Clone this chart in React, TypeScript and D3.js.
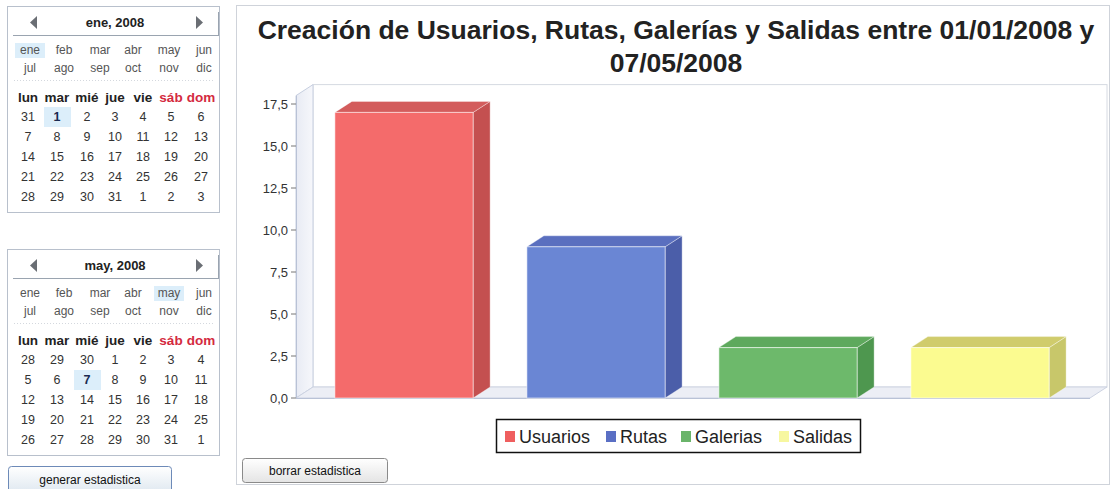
import React from "react";
import * as d3 from "d3";

const categories = ["Usuarios", "Rutas", "Galerias", "Salidas"];
const values = [17, 9, 3, 3];
const yTicks = [0, 2.5, 5, 7.5, 10, 12.5, 15, 17.5];
const titleLines = [
  "Creación de Usuarios, Rutas, Galerías y Salidas entre 01/01/2008 y",
  "07/05/2008",
];
const monthsRow1 = ["ene", "feb", "mar", "abr", "may", "jun"];
const monthsRow2 = ["jul", "ago", "sep", "oct", "nov", "dic"];
const weekdays = ["lun", "mar", "mié", "jue", "vie", "sáb", "dom"];
const janDays = [
  [31, 1, 2, 3, 4, 5, 6],
  [7, 8, 9, 10, 11, 12, 13],
  [14, 15, 16, 17, 18, 19, 20],
  [21, 22, 23, 24, 25, 26, 27],
  [28, 29, 30, 31, 1, 2, 3],
];
const mayDays = [
  [28, 29, 30, 1, 2, 3, 4],
  [5, 6, 7, 8, 9, 10, 11],
  [12, 13, 14, 15, 16, 17, 18],
  [19, 20, 21, 22, 23, 24, 25],
  [26, 27, 28, 29, 30, 31, 1],
];

const palette = [
  { front: "#f46b6b", side: "#c45050", top: "#d35c5c", legend: "#ef5f5f" },
  { front: "#6a86d4", side: "#4b5ea9", top: "#5a6fbf", legend: "#5a6fc4" },
  { front: "#6db96b", side: "#4e974f", top: "#5ea95d", legend: "#6ab46a" },
  { front: "#fbfb90", side: "#c8c76a", top: "#d0cc6c", legend: "#f7f7a0" },
];

const FONT = "Arial, 'Liberation Sans', sans-serif";
const CALFONT = "Arial, 'Liberation Sans', sans-serif";

function Calendar({ oy, title, days, selMonth, selDay }: any) {
  const colX = [28, 57, 87, 115, 143, 171, 201];
  const monX = [30, 64, 100, 133, 169, 204];
  return (
    <g transform={`translate(0,${oy})`}>
      <rect x={7.5} y={6.5} width={212} height={206} fill="#fff" stroke="#b8c0cc" />
      <line x1={13} x2={219} y1={35.5} y2={35.5} stroke="#9aa4b0" />
      <line x1={218.5} x2={218.5} y1={12} y2={35} stroke="#9aa4b0" />
      <path d="M37,16 L37,29 L30,22.5 Z" fill="#6a6e74" />
      <path d="M196,16 L196,29 L203,22.5 Z" fill="#6a6e74" />
      <text x={115} y={22} fontFamily={CALFONT} fontSize={13} fontWeight="bold" fill="#222" textAnchor="middle" dominantBaseline="central">{title}</text>
      {selMonth !== null && (
        <rect x={monX[selMonth % 6] - 15} y={selMonth < 6 ? 43 : 61} width={30} height={15} fill="#dceefa" />
      )}
      {monthsRow1.map((m, i) => (
        <text key={m} x={monX[i]} y={50} fontFamily={CALFONT} fontSize={12} fill="#555" textAnchor="middle" dominantBaseline="central">{m}</text>
      ))}
      {monthsRow2.map((m, i) => (
        <text key={m} x={monX[i]} y={68} fontFamily={CALFONT} fontSize={12} fill="#555" textAnchor="middle" dominantBaseline="central">{m}</text>
      ))}
      <line x1={14} x2={214} y1={80.5} y2={80.5} stroke="#d4d8de" strokeDasharray="1,2" />
      {weekdays.map((w, i) => (
        <text key={w} x={colX[i]} y={97} fontFamily={CALFONT} fontSize={13.5} fontWeight="bold" fill={i >= 5 ? "#d42a40" : "#222"} textAnchor="middle" dominantBaseline="central">{w}</text>
      ))}
      {days.map((row: number[], r: number) =>
        row.map((d, c) => {
          const sel = selDay && selDay[0] === r && selDay[1] === c;
          return (
            <g key={`${r}-${c}`}>
              {sel && <rect x={colX[c] - 13} y={107 + r * 20} width={27} height={20} fill="#dceefa" />}
              <text x={colX[c]} y={117 + r * 20} fontFamily={CALFONT} fontSize={12.5} fill={sel ? "#1a2a50" : "#333"} fontWeight={sel ? "bold" : "normal"} textAnchor="middle" dominantBaseline="central">{d}</text>
            </g>
          );
        })
      )}
    </g>
  );
}

export default function App() {
  const yBase = 398;
  const y = d3.scaleLinear().domain([0, 18]).range([yBase, yBase - 18 * 16.8]);
  const x = d3
    .scaleBand<string>()
    .domain(categories)
    .range([308, 1076])
    .paddingInner(0.28)
    .paddingOuter(0.14);
  const dx = 17;
  const dy = -11;
  const axisX = 296;
  const floorEnd = 1090;
  const yTop = y(18);

  return (
    <svg width={1112} height={489} style={{ position: "absolute", left: 0, top: 0, background: "#fff" }}>
      <defs>
        <linearGradient id="btn1" x1="0" x2="0" y1="0" y2="1">
          <stop offset="0" stopColor="#ffffff" />
          <stop offset="1" stopColor="#dfe8f0" />
        </linearGradient>
        <linearGradient id="btn2" x1="0" x2="0" y1="0" y2="1">
          <stop offset="0" stopColor="#ffffff" />
          <stop offset="1" stopColor="#e4e4e4" />
        </linearGradient>
        <linearGradient id="wallL" x1="0" x2="1" y1="0" y2="0">
          <stop offset="0" stopColor="#e8ebf4" />
          <stop offset="1" stopColor="#f6f7fb" />
        </linearGradient>
      </defs>

      <Calendar oy={0} title="ene, 2008" days={janDays} selMonth={0} selDay={[0, 1]} />
      <Calendar oy={243} title="may, 2008" days={mayDays} selMonth={4} selDay={[1, 2]} />

      <rect x={8.5} y={466.5} width={163} height={26} rx={3} fill="url(#btn1)" stroke="#6d8ab8" />
      <text x={90} y={480} fontFamily={CALFONT} fontSize={12} fill="#111" textAnchor="middle" dominantBaseline="central">generar estadistica</text>

      {/* chart panel */}
      <rect x={236.5} y={5.5} width={873} height={479} fill="#fff" stroke="#cfd3da" />

      {titleLines.map((t, i) => (
        <text key={i} x={676} y={39 + i * 33} fontFamily={FONT} fontSize={26.5} fontWeight="bold" fill="#222" textAnchor="middle">{t}</text>
      ))}

      {/* back wall */}
      <rect x={axisX + dx} y={yTop + dy} width={floorEnd - axisX} height={yBase - yTop} fill="#fff" stroke="#d6dae2" />
      {/* left side wall */}
      <path
        d={`M${axisX},${yTop} L${axisX + dx},${yTop + dy} L${axisX + dx},${yBase + dy} L${axisX},${yBase} Z`}
        fill="url(#wallL)"
        stroke="#c7cfe0"
      />
      {/* floor */}
      <path
        d={`M${axisX},${yBase} L${axisX + dx},${yBase + dy} L${floorEnd + dx},${yBase + dy} L${floorEnd},${yBase} Z`}
        fill="#eceef5"
        stroke="#cdd3e2"
      />
      <line x1={axisX} x2={floorEnd} y1={yBase + 0.5} y2={yBase + 0.5} stroke="#b9c2d6" />
      <line x1={axisX + 0.5} x2={axisX + 0.5} y1={yTop} y2={yBase} stroke="#b9c2d6" />

      {yTicks.map((t) => (
        <g key={t}>
          <line x1={axisX - 5} x2={axisX} y1={y(t)} y2={y(t)} stroke="#777" />
          <text x={288} y={y(t)} fontFamily={FONT} fontSize={13} fill="#333" textAnchor="end" dominantBaseline="central">
            {t.toFixed(1).replace(".", ",")}
          </text>
        </g>
      ))}

      {/* bars */}
      {categories.map((c, i) => {
        const x0 = x(c)!;
        const w = x.bandwidth();
        const yt = y(values[i]);
        const p = palette[i];
        return (
          <g key={c}>
            <path
              d={`M${x0 + w},${yt} L${x0 + w + dx},${yt + dy} L${x0 + w + dx},${yBase + dy} L${x0 + w},${yBase} Z`}
              fill={p.side}
              stroke="rgba(255,255,255,0.35)"
            />
            <path
              d={`M${x0},${yt} L${x0 + dx},${yt + dy} L${x0 + w + dx},${yt + dy} L${x0 + w},${yt} Z`}
              fill={p.top}
              stroke="rgba(255,255,255,0.35)"
            />
            <rect x={x0} y={yt} width={w} height={yBase - yt} fill={p.front} stroke="rgba(255,255,255,0.55)" />
          </g>
        );
      })}

      {/* legend */}
      <rect x={496.5} y={419.5} width={364} height={33} fill="#fff" stroke="#111" strokeWidth={1.5} />
      {(() => {
        const xs = [505, 606, 681, 779];
        return categories.map((c, i) => (
          <g key={c}>
            <rect x={xs[i]} y={431} width={10} height={11} fill={palette[i].legend} />
            <text x={xs[i] + 14} y={437} fontFamily={FONT} fontSize={18} fill="#222" dominantBaseline="central">{c}</text>
          </g>
        ));
      })()}

      <rect x={242.5} y={458.5} width={145} height={24} rx={3} fill="url(#btn2)" stroke="#8a8a8a" />
      <text x={315} y={470.5} fontFamily={CALFONT} fontSize={12} fill="#111" textAnchor="middle" dominantBaseline="central">borrar estadistica</text>
    </svg>
  );
}
